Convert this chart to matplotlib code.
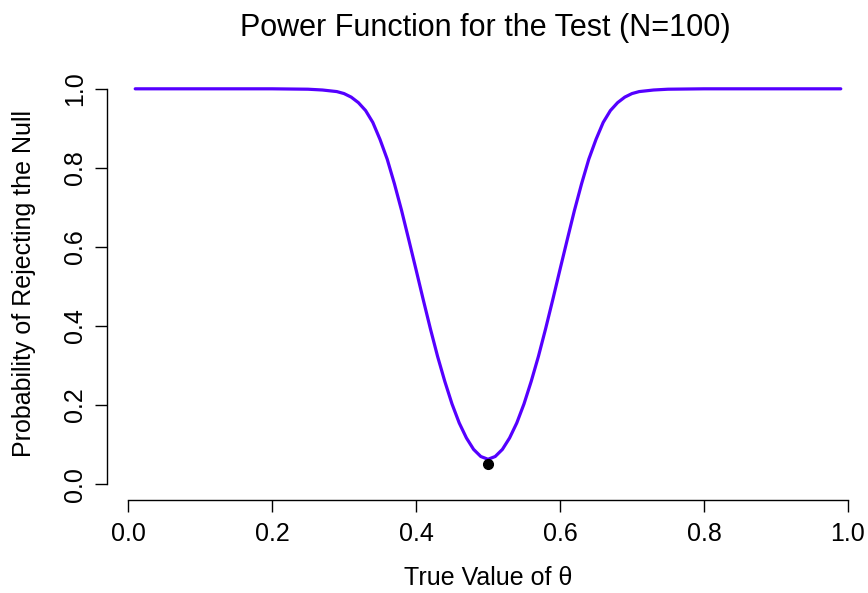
import matplotlib
matplotlib.use("Agg")
import matplotlib.pyplot as plt

plt.rcParams['font.family'] = ['Liberation Sans', 'DejaVu Sans']

# Power curve values
theta = [0.01, 0.10, 0.20, 0.25, 0.27, 0.29, 0.30, 0.31, 0.32, 0.33, 0.34, 0.35,
         0.36, 0.37, 0.38, 0.39, 0.40, 0.41, 0.42, 0.43, 0.44, 0.45, 0.46, 0.47,
         0.48, 0.49, 0.50, 0.51, 0.52, 0.53, 0.54, 0.55, 0.56, 0.57, 0.58, 0.59,
         0.60, 0.61, 0.62, 0.63, 0.64, 0.65, 0.66, 0.67, 0.68, 0.69, 0.70, 0.71,
         0.73, 0.75, 0.80, 0.90, 0.99]
power = [1.000, 1.000, 1.000, 0.999, 0.997, 0.993, 0.988, 0.979, 0.965, 0.945, 0.915, 0.872,
         0.822, 0.760, 0.692, 0.618, 0.543, 0.467, 0.393, 0.323, 0.260, 0.203, 0.155, 0.117,
         0.088, 0.070, 0.063, 0.070, 0.088, 0.117, 0.155, 0.203, 0.260, 0.323, 0.393, 0.467,
         0.543, 0.618, 0.692, 0.760, 0.822, 0.872, 0.915, 0.945, 0.965, 0.979, 0.988, 0.993,
         0.997, 0.999, 1.000, 1.000, 1.000]

null_theta = [0.5]
null_alpha = [0.05]

x_ticks = [0.0, 0.2, 0.4, 0.6, 0.8, 1.0]
y_ticks = [0.0, 0.2, 0.4, 0.6, 0.8, 1.0]

W, H = 868, 593
fig = plt.figure(figsize=(W / 100, H / 100), dpi=100)
left, right, top, bottom = 107, 869, 73, 500
ax = fig.add_axes([left / W, (H - bottom) / H, (right - left) / W, (bottom - top) / H])

ax.plot(theta, power, color='#5500ff', lw=2.3, solid_joinstyle='round',
        solid_capstyle='round')
ax.plot(null_theta, null_alpha, 'o', color='black', ms=7)

ax.set_xlim(0.01 - 0.04 * 0.98, 0.99 + 0.04 * 0.98)
ax.set_ylim(-0.04, 1.04)

for s in ['top', 'right']:
    ax.spines[s].set_visible(False)
ax.spines['left'].set_bounds(0, 1)
ax.spines['bottom'].set_bounds(0, 1)
ax.spines['left'].set_linewidth(1.0)
ax.spines['bottom'].set_linewidth(1.0)

ax.set_xticks(x_ticks)
ax.set_xticklabels([f"{v:.1f}" for v in x_ticks])
ax.set_yticks(y_ticks)
ax.set_yticklabels([f"{v:.1f}" for v in y_ticks], rotation=90, va='center')
ax.tick_params(direction='out', length=8.5, width=1.0, labelsize=18)
ax.tick_params(axis='x', pad=7)
ax.tick_params(axis='y', pad=6)

fig.text(488 / W, 1 - 578 / H, "True Value of θ", fontsize=18, ha='center', va='center')
fig.text(24 / W, 1 - 283 / H, "Probability of Rejecting the Null", fontsize=18,
         ha='center', va='center', rotation=90)
fig.text(485 / W, 1 - 28 / H, "Power Function for the Test (N=100)", fontsize=22,
         ha='center', va='center')

fig.savefig("out.png", dpi=100)
